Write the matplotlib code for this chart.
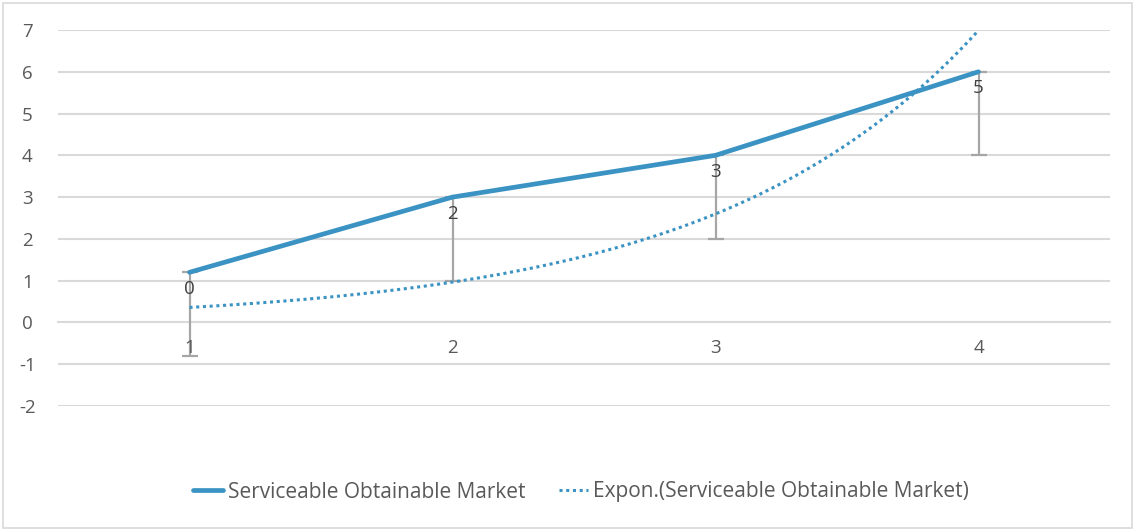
import numpy as np
import matplotlib
matplotlib.use("Agg")
import matplotlib.pyplot as plt
from matplotlib.patches import Rectangle

# market series
periods = [1, 2, 3, 4]
som = [1.2, 3.0, 4.0, 6.0]
som_minus_err = [2, 2, 2, 2]
point_labels = ["0", "2", "3", "5"]
# trend values read at each period
trend_at_periods = [0.36, 0.96, 2.6, 7.0]
y_ticks = [-2, -1, 0, 1, 2, 3, 4, 5, 6, 7]

blue = "#3A93C3"
grey_txt = "#595959"
grid_c = "#D9D9D9"

plt.rcParams["font.family"] = ["Open Sans", "DejaVu Sans"]
plt.rcParams["axes.unicode_minus"] = False

fig = plt.figure(figsize=(11.35, 5.31), dpi=100)
ax = fig.add_axes([58 / 1135, 1 - 406 / 531, (1110 - 58) / 1135, (406 - 30) / 531])
ax.set_axisbelow(False)

# chart border
fig.patches.append(Rectangle((3 / 1135, 3 / 531), 1 - 6 / 1135, 1 - 6 / 531,
                             transform=fig.transFigure, fill=False,
                             edgecolor=grid_c, lw=1.2))

for t in y_ticks:
    if t != 0:
        ax.axhline(t, color=grid_c, lw=1.5, zorder=0)

ax.plot(periods, som, color=blue, lw=3.4, solid_capstyle="round",
        label="Serviceable Obtainable Market", zorder=3)
ax.errorbar(periods, som, yerr=[som_minus_err, [0] * 4], fmt="none",
            ecolor="#A6A6A6", elinewidth=1.6, capsize=6, capthick=1.6, zorder=1.8)

# exponential trend fitted through the read values
b, ln_a = np.polyfit(periods, np.log(trend_at_periods), 1)
xs = np.linspace(periods[0], periods[-1], 200)
ax.plot(xs, np.exp(ln_a + b * xs), color=blue, lw=2.2, ls=(0, (1, 1.2)),
        label="Expon.(Serviceable Obtainable Market)", zorder=3)

for x, y, lab in zip(periods, som, point_labels):
    ax.annotate(lab, (x, y), xytext=(0, -12), textcoords="offset points",
                ha="center", va="center", fontsize=13.5, color="#404040", zorder=4)

ax.set_xlim(0.5, 4.5)
ax.set_ylim(-2, 7)
ax.set_yticks(y_ticks)
ax.set_xticks(periods)
ax.set_xticklabels([str(p) for p in periods])

for s in ["top", "right", "left"]:
    ax.spines[s].set_visible(False)
ax.spines["bottom"].set_position(("data", 0))
ax.spines["bottom"].set_color(grid_c)
ax.spines["bottom"].set_linewidth(1.5)
ax.spines["bottom"].set_zorder(0.5)
ax.tick_params(axis="y", length=0, pad=22, labelsize=13.5, labelcolor=grey_txt)
ax.tick_params(axis="x", length=0, pad=12, labelsize=13.5, labelcolor=grey_txt)
for lab in ax.get_yticklabels():
    lab.set_horizontalalignment("center")

leg = fig.legend(loc="center", bbox_to_anchor=(0.512, 1 - 492 / 531), ncol=2,
                 frameon=False, fontsize=15, handlelength=1.4, columnspacing=1.6,
                 handletextpad=0.25)
for t in leg.get_texts():
    t.set_color(grey_txt)

fig.savefig("out.png", dpi=100)
